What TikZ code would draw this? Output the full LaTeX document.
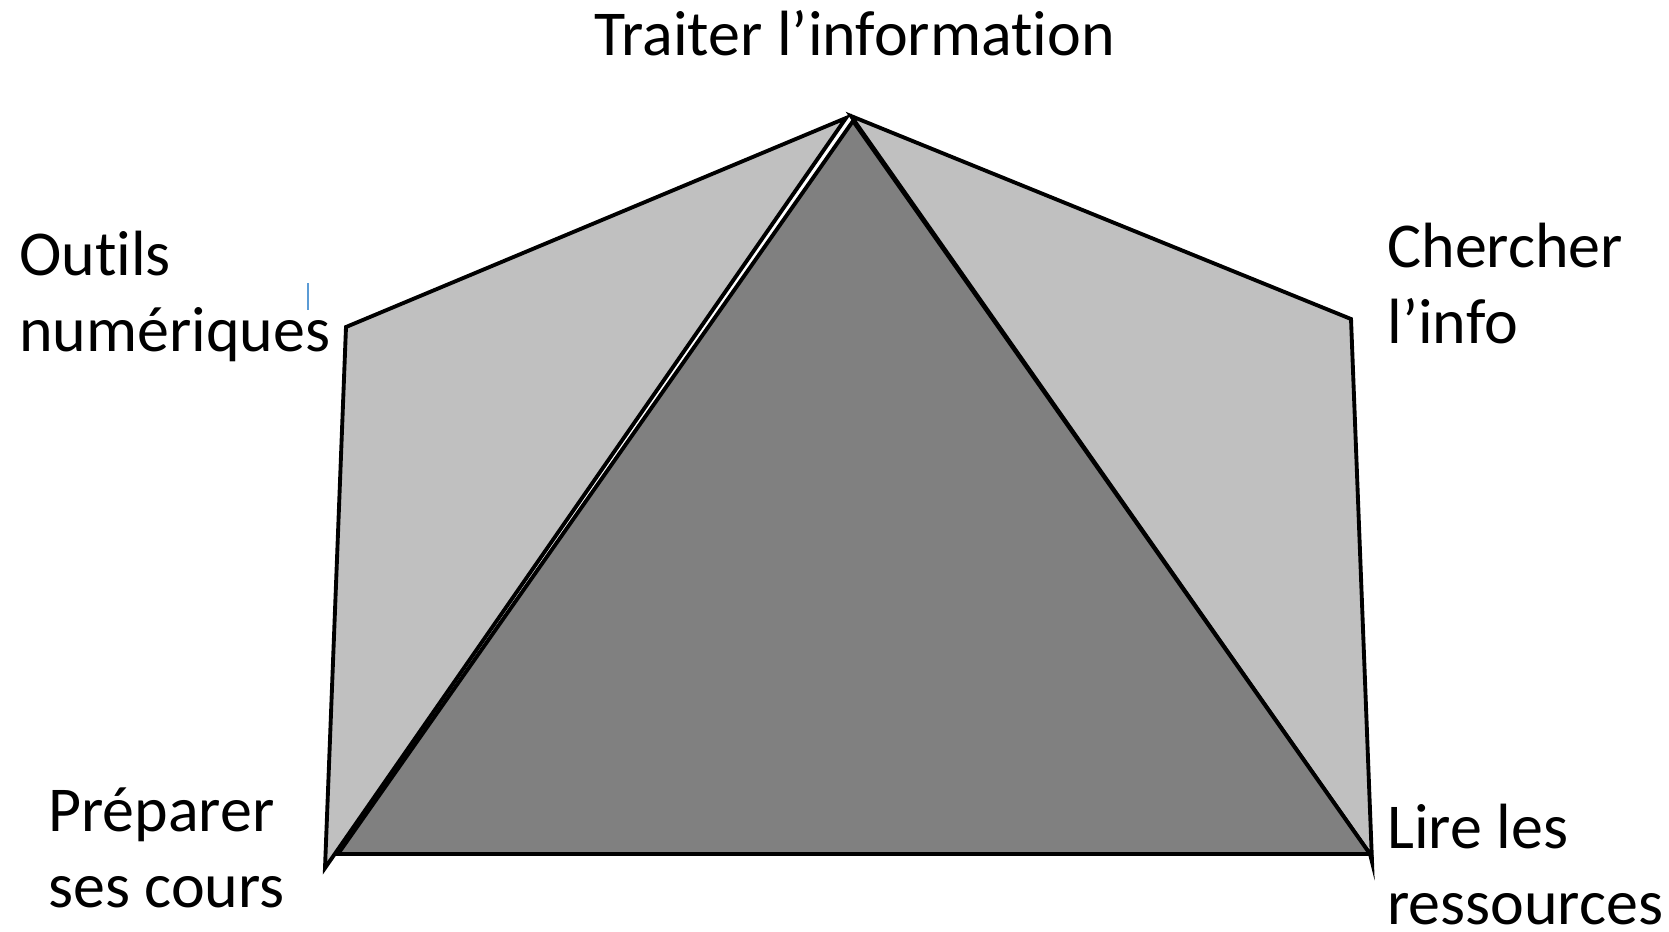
\documentclass[tikz,border=0pt]{standalone}
\usepackage{fontspec}
\setmainfont{Carlito}[Ligatures=NoCommon]
\definecolor{facegray}{HTML}{C0C0C0}
\definecolor{coregray}{HTML}{808080}
\definecolor{cursorblue}{HTML}{5B9BD5}
\tikzset{
	face/.style={draw=black, fill=facegray, line width=2.2pt, line join=miter},
	core/.style={draw=black, fill=coregray, line width=2.2pt, line join=miter},
	lbl/.style={anchor=base west, inner sep=0pt, align=left, font=\fontsize{36.4}{42.7}\selectfont}
}

\begin{document}
\begin{tikzpicture}[x=0.02cm, y=-0.02cm]

	\useasboundingbox (0,0) rectangle (1669,931);

	% sommets
	\coordinate (top) at (853,121);
	\coordinate (ltop) at (846,118);
	\coordinate (rtop) at (851,116);
	\coordinate (lup) at (346,327);
	\coordinate (llow) at (325,868);
	\coordinate (rup) at (1351,319);
	\coordinate (rlow) at (1372,862);
	\coordinate (bl) at (338,854);
	\coordinate (br) at (1370,854);

	% faces laterales
	\draw[face] (ltop) -- (lup) -- (llow) -- cycle;
	\draw[face] (rtop) -- (rup) -- (rlow) -- (br) -- cycle;

	% triangle central
	\draw[core] (top) -- (bl) -- (br) -- cycle;

	% curseur
	\draw[cursorblue, line width=1pt] (308,283) -- (308,310);

	% etiquettes (base de la derniere ligne)
	\node[lbl] (traiter) at (594,55) {Traiter l’information};
	\node[lbl] (outils) at (19,351) {Outils\\numériques};
	\node[lbl] (chercher) at (1387,343) {Chercher\\l’info};
	\node[lbl] (preparer) at (48,907) {Préparer\\ses cours};
	\node[lbl] (lire) at (1387,924) {Lire les\\ressources};

\end{tikzpicture}
\end{document}
